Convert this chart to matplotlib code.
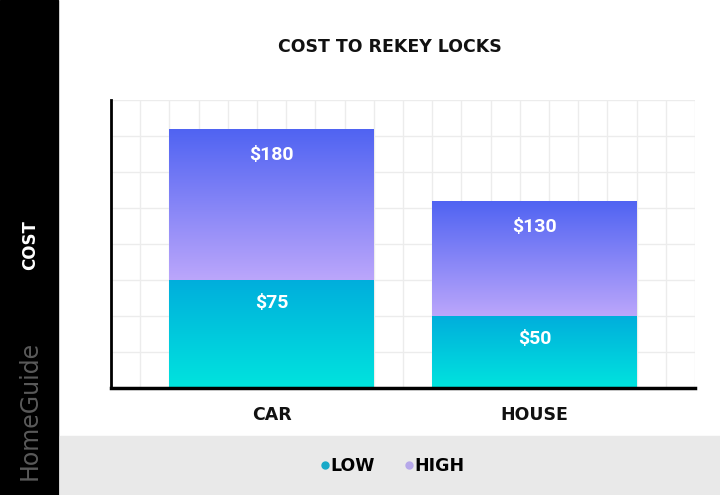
import matplotlib.pyplot as plt
import numpy as np
from matplotlib.patches import Rectangle
from matplotlib.lines import Line2D

# data
categories = ['CAR', 'HOUSE']
low = [75, 50]
high = [180, 130]
low_labels = ['$75', '$50']
high_labels = ['$180', '$130']
x_pos = [5.5, 14.5]

fig = plt.figure(figsize=(7.2, 4.95), dpi=100)

# black side band and grey legend band
fig.patches.append(Rectangle((0, 0), 58/720, 1, transform=fig.transFigure, color='black', zorder=0))
fig.patches.append(Rectangle((60/720, 0), 1, 59/495, transform=fig.transFigure, color='#e9e9e9', zorder=0))

ax = fig.add_axes([111/720, 1-388/495, 584/720, 288/495])
ax.set_xlim(0, 20)
ax.set_ylim(0, 200)

# grid
ax.set_xticks(np.arange(0, 21, 1), minor=True)
ax.set_yticks(np.arange(0, 201, 25), minor=True)
ax.grid(True, which='minor', color='#ececec', linewidth=1)
ax.set_axisbelow(True)
ax.tick_params(which='both', length=0)
ax.set_yticks([])
ax.set_xticks(x_pos)
ax.set_xticklabels(categories, fontsize=12.5, fontweight='bold', color='#111111')
ax.tick_params(axis='x', pad=13)

for s in ['top', 'right']:
    ax.spines[s].set_visible(False)
ax.spines['left'].set_linewidth(2)
ax.spines['bottom'].set_linewidth(2.5)
ax.spines['bottom'].set_bounds(0, 20)

def gradient_fill(patch, top_col, bot_col):
    x0, y0 = patch.get_x(), patch.get_y()
    w, h = patch.get_width(), patch.get_height()
    t = np.array(plt.matplotlib.colors.to_rgb(top_col))
    b = np.array(plt.matplotlib.colors.to_rgb(bot_col))
    f = np.linspace(0, 1, 256)[:, None]
    img = (t * (1 - f) + b * f)[:, None, :]
    im = ax.imshow(img, extent=[x0, x0 + w, y0, y0 + h], origin='upper',
                   aspect='auto', zorder=2)
    im.set_clip_path(patch)
    patch.set_facecolor('none')
    patch.set_edgecolor('none')

hb = ax.bar(x_pos, [h - l for h, l in zip(high, low)], bottom=low, width=7, zorder=2)
lb = ax.bar(x_pos, low, width=7, zorder=2)
for p in hb:
    gradient_fill(p, '#4f63f2', '#bba6fb')
for p in lb:
    gradient_fill(p, '#00aedc', '#00e4de')
ax.set_xlim(0, 20)
ax.set_ylim(0, 200)

for x, l, h, ll, hl in zip(x_pos, low, high, low_labels, high_labels):
    ax.text(x, h - 18, hl, ha='center', va='center', color='white',
            fontsize=14, fontweight='bold', family='Roboto', zorder=3)
    ax.text(x, l - 16, ll, ha='center', va='center', color='white',
            fontsize=14, fontweight='bold', family='Roboto', zorder=3)

fig.text(390/720, 1-47/495, 'COST TO REKEY LOCKS', ha='center', va='center',
         fontsize=12.5, fontweight='bold', color='#111111')
fig.text(30/720, 1-245/495, 'COST', rotation=90, ha='center', va='center',
         fontsize=12, fontweight='bold', color='white')
fig.text(30/720, 1-410/495, 'HomeGuide', rotation=90, ha='center', va='center',
         fontsize=17, color='#5a5a5a')

handles = [Line2D([], [], marker='o', color='#17a9c8', linestyle='none', markersize=5),
           Line2D([], [], marker='o', color='#b6a8ea', linestyle='none', markersize=5)]
leg = fig.legend(handles, ['LOW', 'HIGH'], loc='center', bbox_to_anchor=(386/720, 1-466/495),
                 ncol=2, frameon=False, handletextpad=-0.7, columnspacing=0.95,
                 prop={'weight': 'bold', 'size': 12.5})

plt.savefig('out.png', dpi=100)
